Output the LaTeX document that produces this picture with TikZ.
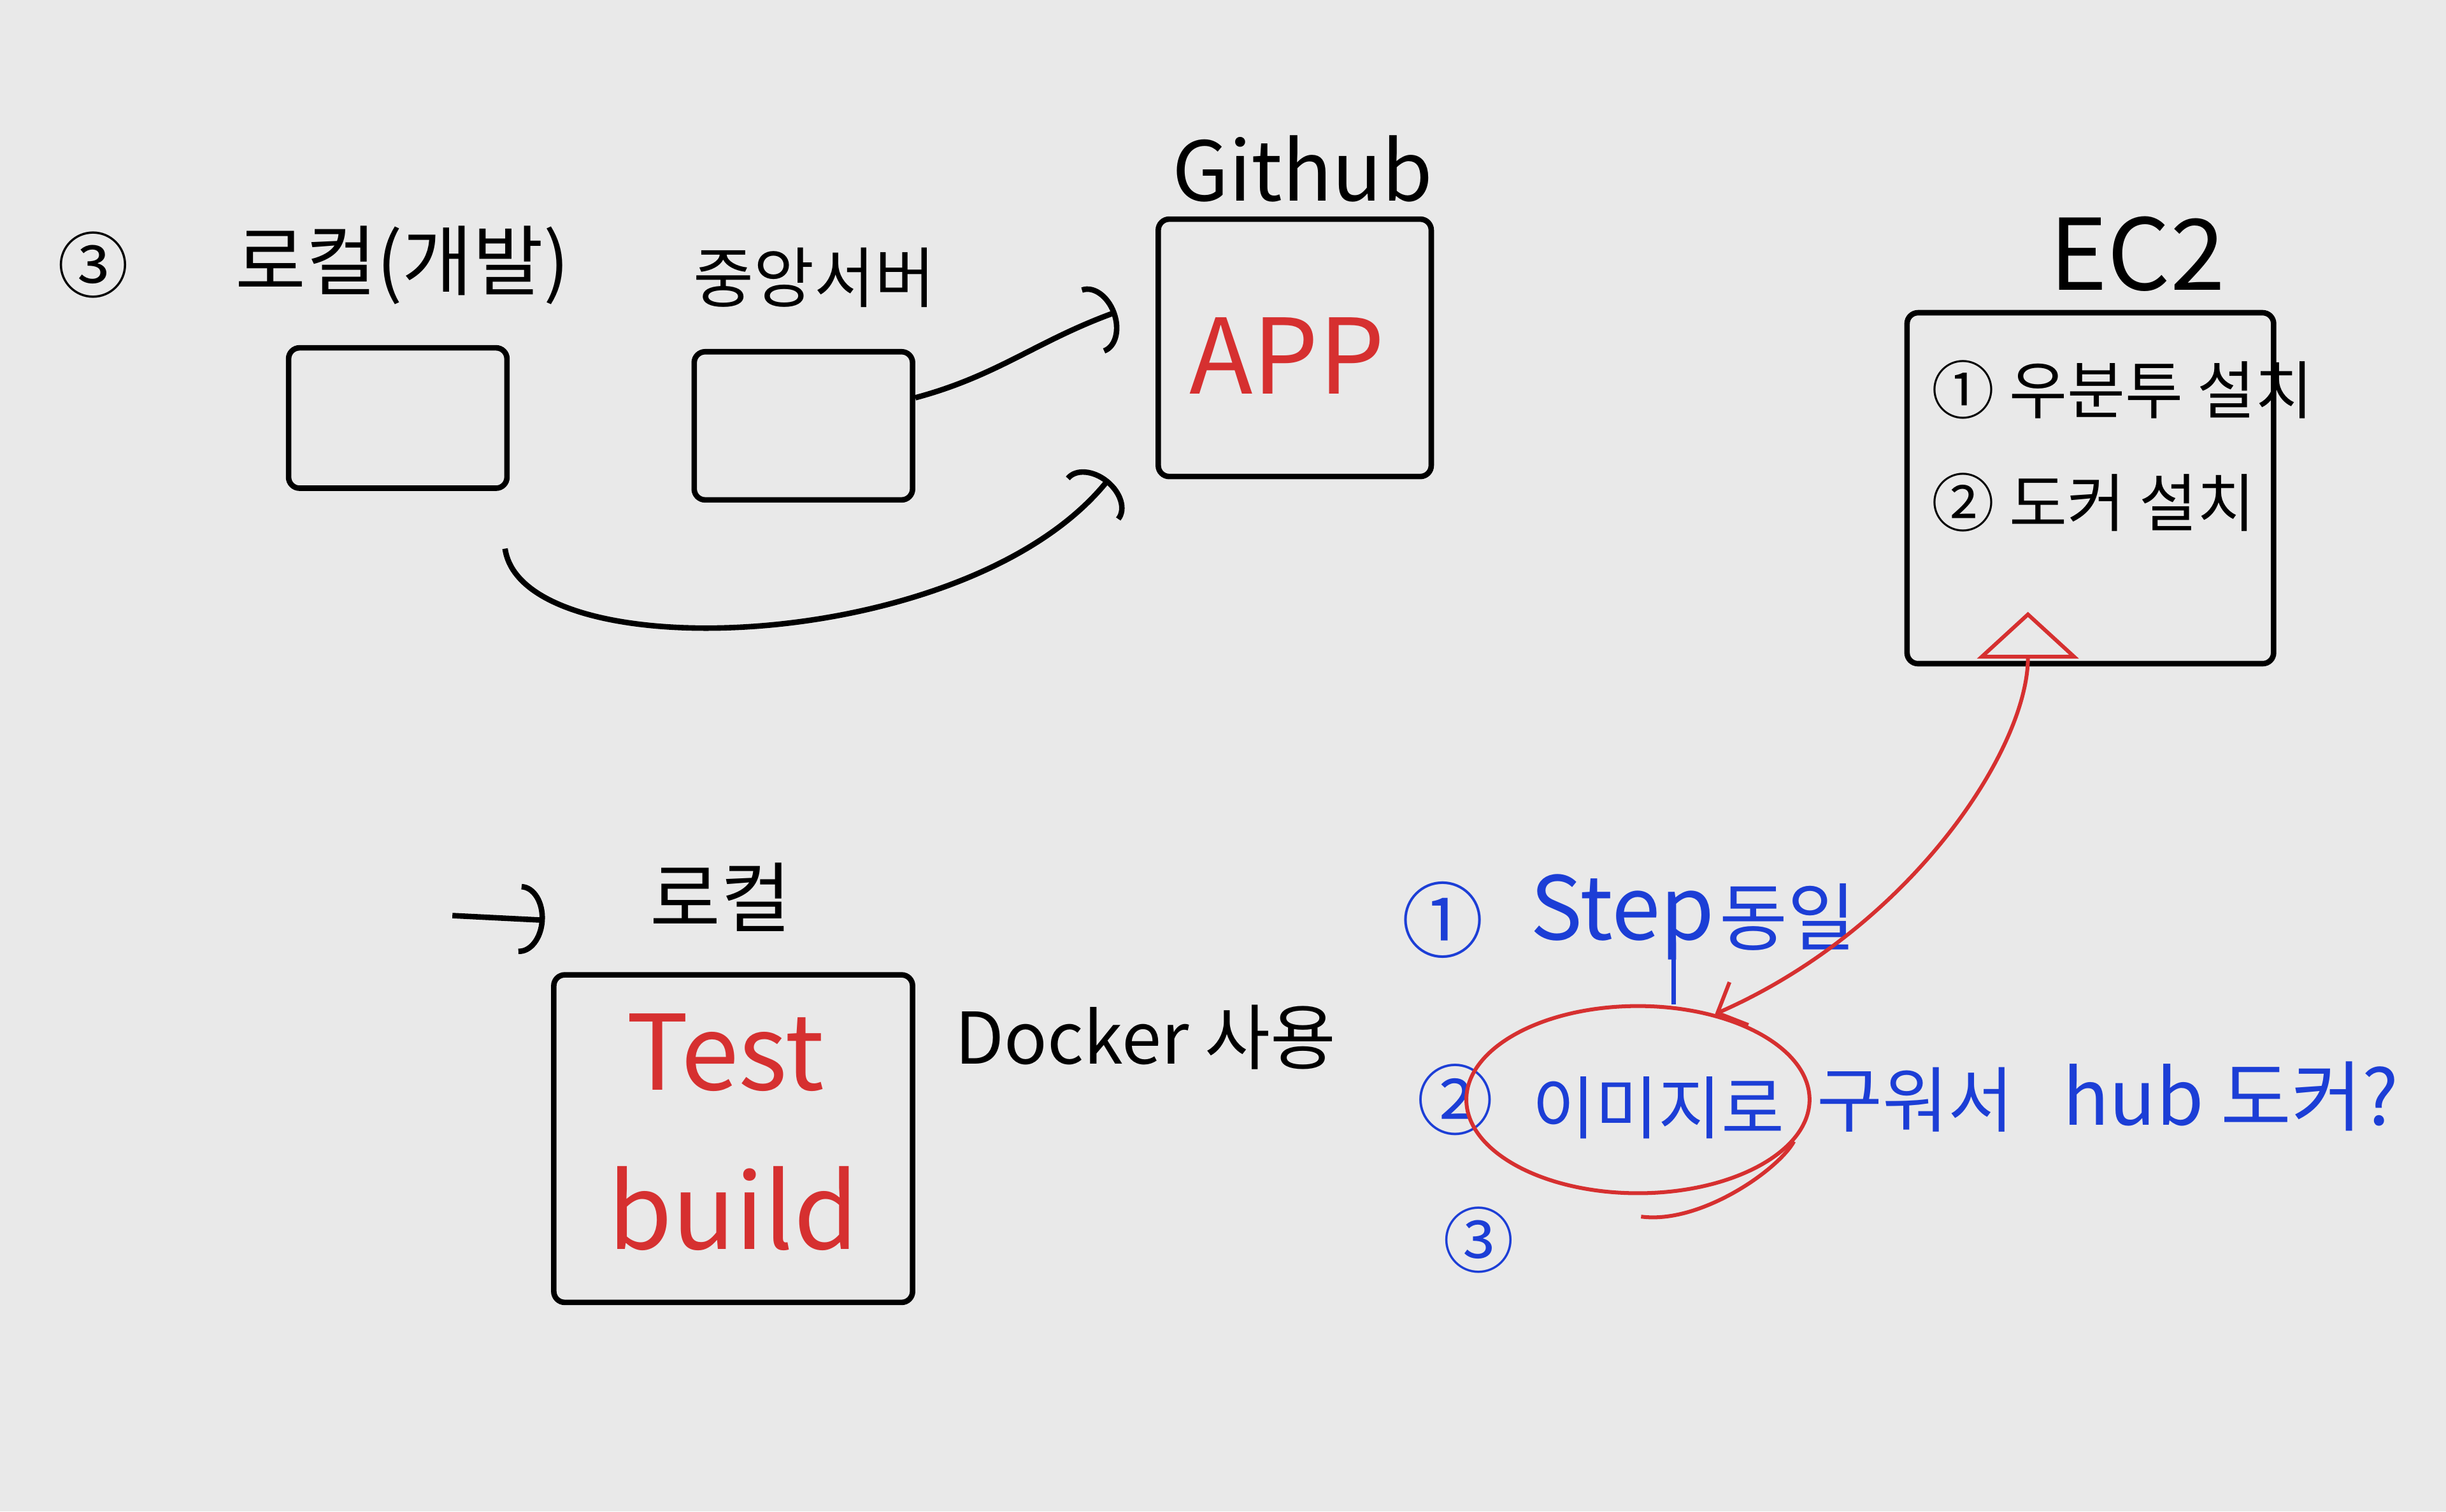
\documentclass[tikz,border=0pt]{standalone}
\usepackage{fontspec}
\setmainfont{Noto Sans CJK KR}
\usetikzlibrary{arrows.meta,positioning,shapes.geometric}
\definecolor{paper}{RGB}{233,233,233}
\definecolor{redink}{RGB}{214,48,48}
\definecolor{blueink}{RGB}{28,62,214}

\begin{document}
\begin{tikzpicture}[
  x=0.1mm, y=-0.1mm,
  box/.style={draw, line width=1pt, rounded corners=2pt, inner sep=0pt},
  tag/.style={font=\fontsize{13}{15}\selectfont},
  redtxt/.style={text=redink, font=\fontsize{19}{21}\selectfont},
  bluetxt/.style={text=blueink, font=\fontsize{13}{15}\selectfont},
  arw/.style={-{Arc Barb[length=1.6mm,width=4.5mm]}, line width=1pt},
  redline/.style={draw=redink, line width=0.7pt},
  blueline/.style={draw=blueink, line width=0.8pt}
]
\fill[paper] (0,0) rectangle (1568,969);
\useasboundingbox (0,0) rectangle (1568,969);

% top row: local -> central -> github
\node[tag] (num3) at (60,170) {③};
\node[tag, font=\fontsize{14}{16}\selectfont] (loclbl) at (258,170) {로컬(개발)};
\node[tag, font=\fontsize{12}{14}\selectfont] (midlbl) at (522,178) {중앙서버};
\node[box, minimum width=14mm, minimum height=9mm] (localbox) at (255,268) {};
\node[box, minimum width=14mm, minimum height=9.5mm] (midbox) at (515,273) {};
\node[box, minimum width=17.5mm, minimum height=16.5mm] (gitbox) at (830,223) {};
\node[font=\fontsize{15}{17}\selectfont] (gitlbl) at (835,108) {Github};
\node[redtxt] (app) at (825,228) {APP};

\draw[arw] ([yshift=1.8mm]midbox.east) to[out=15,in=200] ([xshift=-2.5mm,yshift=2.3mm]gitbox.west);
\draw[arw] ([xshift=-0.3mm,yshift=-3.7mm]localbox.south east) .. controls (335,430) and (620,420) .. ([xshift=-3mm]gitbox.south west);

% EC2
\node[box, minimum width=23.5mm, minimum height=22.5mm] (ec2box) at (1340,313) {};
\node[font=\fontsize{18}{20}\selectfont] (ec2lbl) at (1370,163) {EC2};
\node[tag, font=\fontsize{11.5}{14}\selectfont, anchor=west] (ubuntu) at (1226,250) {① 우분투 설치};
\node[tag, font=\fontsize{11.5}{14}\selectfont, anchor=west] (dockinst) at (1226,322) {② 도커 설치};

% local docker
\coordinate (inlet) at (290,587);
\node[tag, font=\fontsize{14}{16}\selectfont] (loc2) at (462,575) {로컬};
\draw[arw] (inlet) -- ([xshift=-5.5mm,yshift=-1.5mm]loc2.west);
\node[box, minimum width=23mm, minimum height=21mm] (dockbox) at (470,730) {};
\node[redtxt] (testtxt) at (465,675) {Test};
\node[redtxt] (buildtxt) at (470,775) {build};
\node[tag, anchor=west] (docklbl) at (600,665) {Docker 사용};

% deploy notes
\node[bluetxt, font=\fontsize{15}{17}\selectfont] (c1) at (925,590) {①};
\node[bluetxt, font=\fontsize{16}{18}\selectfont] (steptxt) at (1040,588) {Step};
\node[bluetxt, font=\fontsize{13.5}{16}\selectfont] (same) at (1146,588) {동일};
\node[bluetxt, font=\fontsize{14}{16}\selectfont] (c2) at (933,705) {②};
\node[bluetxt, font=\fontsize{12.5}{15}\selectfont] (imgtxt) at (1063,710) {이미지로};
\node[bluetxt] (bake) at (1228,705) {구워서};
\node[bluetxt, font=\fontsize{14}{16}\selectfont] (hubtxt) at (1430,703) {hub 도커?};
\node[bluetxt] (c3) at (948,795) {③};

\node[ellipse, draw=redink, line width=0.7pt, minimum width=22mm, minimum height=12mm] (imgring) at (1050,705) {};
\draw[redline] (imgring.-15) .. controls (1140,750) and (1090,785) .. (1052,780);
\draw[blueline] ([xshift=2.3mm]imgring.north) -- ([xshift=2.3mm,yshift=2.5mm]imgring.north |- steptxt.south);
\draw[redline, {Straight Barb[length=1.5mm,width=3mm]}-{Triangle[open,length=3mm,width=6.5mm]}]
  (imgring.48) .. controls (1225,595) and (1300,480) .. ([xshift=-4mm,yshift=3.5mm]ec2box.south);

\end{tikzpicture}
\end{document}
